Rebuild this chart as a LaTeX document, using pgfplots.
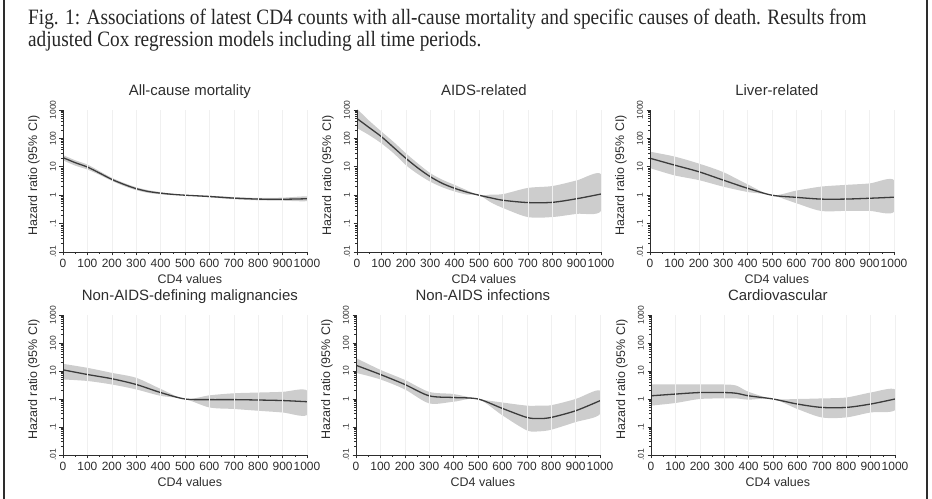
\documentclass[border=0pt]{standalone}
\usepackage{fontspec}
\setmainfont{Liberation Serif}
\newfontfamily\arial{Liberation Sans}
\usepackage{pgfplots}
\usepackage{pgfplotstable}
\pgfplotsset{compat=1.18}
\definecolor{bandc}{RGB}{205,205,205}
\definecolor{curvec}{RGB}{60,60,60}
\definecolor{axc}{RGB}{45,45,45}

% point estimates (hazard ratio)
\pgfplotstableread{
x hr
0 21
50 14
100 9.8
150 6
200 3.6
250 2.4
300 1.7
350 1.35
400 1.18
450 1.07
500 1
600 0.9
700 0.79
800 0.73
900 0.72
1000 0.75
}\tAll
\pgfplotstableread{
x hr
0 500
50 240
100 115
150 48
200 20
250 9
300 4.5
350 2.6
400 1.75
450 1.28
500 1
550 0.8
600 0.66
700 0.55
800 0.56
900 0.75
1000 1.1
}\tAids
\pgfplotstableread{
x hr
0 20
100 11.5
200 6.7
300 3.4
400 1.75
500 1
600 0.84
700 0.73
800 0.73
900 0.78
1000 0.85
}\tLiver
\pgfplotstableread{
x hr
0 11
100 7.5
200 5.3
300 3.3
400 1.7
500 1
600 0.95
700 0.95
800 0.92
900 0.88
1000 0.8
}\tNadm
\pgfplotstableread{
x hr
0 16
100 7.5
200 3.3
300 1.3
400 1.13
500 1
600 0.46
700 0.22
750 0.2
800 0.22
900 0.38
1000 0.87
}\tNai
\pgfplotstableread{
x hr
0 1.3
100 1.5
200 1.7
300 1.7
350 1.6
400 1.3
500 1
600 0.66
700 0.5
800 0.5
900 0.66
1000 1.0
}\tCvd

% 95% CI bands: upper limit left to right, then lower limit right to left
\pgfplotstableread{
x y
0 26
50 17
100 12
150 7
200 4.1
250 2.7
300 1.9
350 1.5
400 1.28
450 1.12
500 1
600 0.96
700 0.86
800 0.8
900 0.82
1000 0.9
1000 0.62
900 0.64
800 0.66
700 0.72
600 0.84
500 1
450 1.0
400 1.08
350 1.2
300 1.5
250 2.1
200 3.2
150 5.2
100 8
50 11
0 17
}\bAll
\pgfplotstableread{
x y
0 1100
50 420
100 175
150 75
200 30
250 13
300 6
350 3.5
400 2.3
450 1.5
500 1
550 1.05
600 1.1
700 1.8
800 2.1
900 3.3
1000 5.5
1000 0.28
900 0.22
800 0.17
700 0.17
600 0.35
550 0.55
500 1
450 1.05
400 1.35
350 1.9
300 3
250 5.5
200 11.5
150 30
100 67
50 130
0 230
}\bAids
\pgfplotstableread{
x y
0 34
100 23
200 13
300 6.5
400 2.4
500 1
600 1.45
700 2.0
800 2.3
900 2.6
1000 3.4
1000 0.26
900 0.28
800 0.28
700 0.28
600 0.52
500 1
400 1.3
300 2
200 3.4
100 5
0 9
}\bLiver
\pgfplotstableread{
x y
0 18
100 13
200 8.6
300 5.7
400 2.3
500 1
600 1.35
700 1.6
800 1.7
900 1.8
1000 2.0
1000 0.27
900 0.33
800 0.38
700 0.44
600 0.5
500 1
400 1.3
300 2.2
200 3.3
100 4.4
0 5
}\bNadm
\pgfplotstableread{
x y
0 29
100 11
200 4.8
300 1.8
400 1.5
500 1
600 0.75
700 0.58
750 0.58
800 0.6
900 1.0
1000 2.0
1000 0.29
900 0.15
800 0.08
750 0.07
700 0.076
600 0.26
500 1
400 0.8
300 0.7
200 2.2
100 5
0 8.6
}\bNai
\pgfplotstableread{
x y
0 3.3
100 3.3
200 3.3
300 3.3
350 3.0
400 1.8
500 1
600 1.0
700 1.05
800 1.13
900 1.7
1000 2.2
1000 0.4
900 0.33
800 0.22
700 0.22
600 0.44
500 1
400 0.95
350 1.05
300 1.05
200 1.0
100 0.72
0 0.58
}\bCvd

\begin{document}
\begin{tikzpicture}
\pgfplotsset{
  scale only axis, width=244bp, height=142bp,
  xmin=0, xmax=1000, ymin=0.01, ymax=1000,
  axis x line*=bottom, axis y line*=left,
  axis line style={axc, line width=0.8bp},
  axis on top,
  xtick={0,100,...,1000},
  xticklabels={0,100,200,300,400,500,600,700,800,900,1000},
  minor xtick={50,150,...,950},
  ytick={0.01,0.1,1,10,100,1000},
  yticklabels={.01,.1,1,10,100,1000},
  minor ytick={0.02,0.03,0.04,0.05,0.06,0.07,0.08,0.09,0.2,0.3,0.4,0.5,0.6,0.7,0.8,0.9,2,3,4,5,6,7,8,9,20,30,40,50,60,70,80,90,200,300,400,500,600,700,800,900},
  tick align=outside, tick style={axc, line width=0.6bp},
  major tick length=3.5bp, minor tick length=2bp,
  xticklabel style={font=\arial\fontsize{12}{13}\selectfont, text=axc},
  yticklabel style={font=\arial\fontsize{8.5}{9}\selectfont, rotate=90, anchor=south, text=axc},
  xmajorgrids, grid style={black!6, line width=0.5bp},
  xlabel={CD4 values}, ylabel={Hazard ratio (95\% CI)},
  xlabel style={font=\arial\fontsize{12.5}{13}\selectfont, at={(axis description cs:0.52,0)}, anchor=center, yshift=-27bp, text=axc},
  ylabel style={font=\arial\fontsize{12.5}{13}\selectfont, at={(axis description cs:-0.119,0.54)}, anchor=center, text=axc},
  title style={font=\arial\fontsize{15}{16}\selectfont, at={(axis description cs:0.52,1)}, anchor=base, yshift=9bp, text=axc},
}
\useasboundingbox (0bp,0bp) rectangle (932bp,499bp);
\draw[axc, line width=1.2bp] (4bp,0bp) -- (4bp,499bp);
\draw[axc, line width=1.2bp] (927bp,0bp) -- (927bp,499bp);
\node[anchor=base west, inner sep=0pt, xscale=0.88, text=black!85, font=\fontsize{22}{24}\selectfont] at (28bp,474bp) {Fig. 1: Associations of latest CD4 counts with all-cause mortality and specific causes of death. Results from};
\node[anchor=base west, inner sep=0pt, xscale=0.88, text=black!85, font=\fontsize{22}{24}\selectfont] at (28bp,452.5bp) {adjusted Cox regression models including all time periods.};

\begin{axis}[ymode=log, at={(63bp,247bp)}, anchor=south west, title={All-cause mortality}]
  \addplot[fill=bandc, draw=none, smooth, tension=0.5] table[x=x,y=y]{\bAll};
  \addplot[curvec, line width=1.3bp, smooth] table[x=x,y=hr]{\tAll};
  \addplot[black, densely dotted, line width=0.9bp] coordinates {(500,0.01) (500,1000)};
\end{axis}
\begin{axis}[ymode=log, at={(357bp,247bp)}, anchor=south west, title={AIDS-related}]
  \addplot[fill=bandc, draw=none, smooth, tension=0.5] table[x=x,y=y]{\bAids};
  \addplot[curvec, line width=1.3bp, smooth] table[x=x,y=hr]{\tAids};
  \addplot[gray!70, densely dotted, line width=0.7bp] coordinates {(500,0.01) (500,1000)};
\end{axis}
\begin{axis}[ymode=log, at={(650bp,247bp)}, anchor=south west, title={Liver-related}]
  \addplot[fill=bandc, draw=none, smooth, tension=0.5] table[x=x,y=y]{\bLiver};
  \addplot[curvec, line width=1.3bp, smooth] table[x=x,y=hr]{\tLiver};
  \addplot[gray!35, line width=0.5bp] coordinates {(500,0.01) (500,1000)};
\end{axis}
\begin{axis}[ymode=log, height=140bp, at={(63bp,44bp)}, anchor=south west, title={Non-AIDS-defining malignancies}]
  \addplot[fill=bandc, draw=none, smooth, tension=0.5] table[x=x,y=y]{\bNadm};
  \addplot[curvec, line width=1.3bp, smooth] table[x=x,y=hr]{\tNadm};
  \addplot[black, densely dotted, line width=0.9bp] coordinates {(500,0.01) (500,1000)};
\end{axis}
\begin{axis}[ymode=log, height=140bp, at={(356bp,44bp)}, anchor=south west, title={Non-AIDS infections}]
  \addplot[fill=bandc, draw=none, smooth, tension=0.5] table[x=x,y=y]{\bNai};
  \addplot[curvec, line width=1.3bp, smooth] table[x=x,y=hr]{\tNai};
  \addplot[gray!70, densely dotted, line width=0.7bp] coordinates {(500,0.01) (500,1000)};
\end{axis}
\begin{axis}[ymode=log, height=140bp, at={(651bp,44bp)}, anchor=south west, title={Cardiovascular}]
  \addplot[fill=bandc, draw=none, smooth, tension=0.5] table[x=x,y=y]{\bCvd};
  \addplot[curvec, line width=1.3bp, smooth] table[x=x,y=hr]{\tCvd};
  \addplot[gray!35, line width=0.5bp] coordinates {(500,0.01) (500,1000)};
\end{axis}
\end{tikzpicture}
\end{document}
